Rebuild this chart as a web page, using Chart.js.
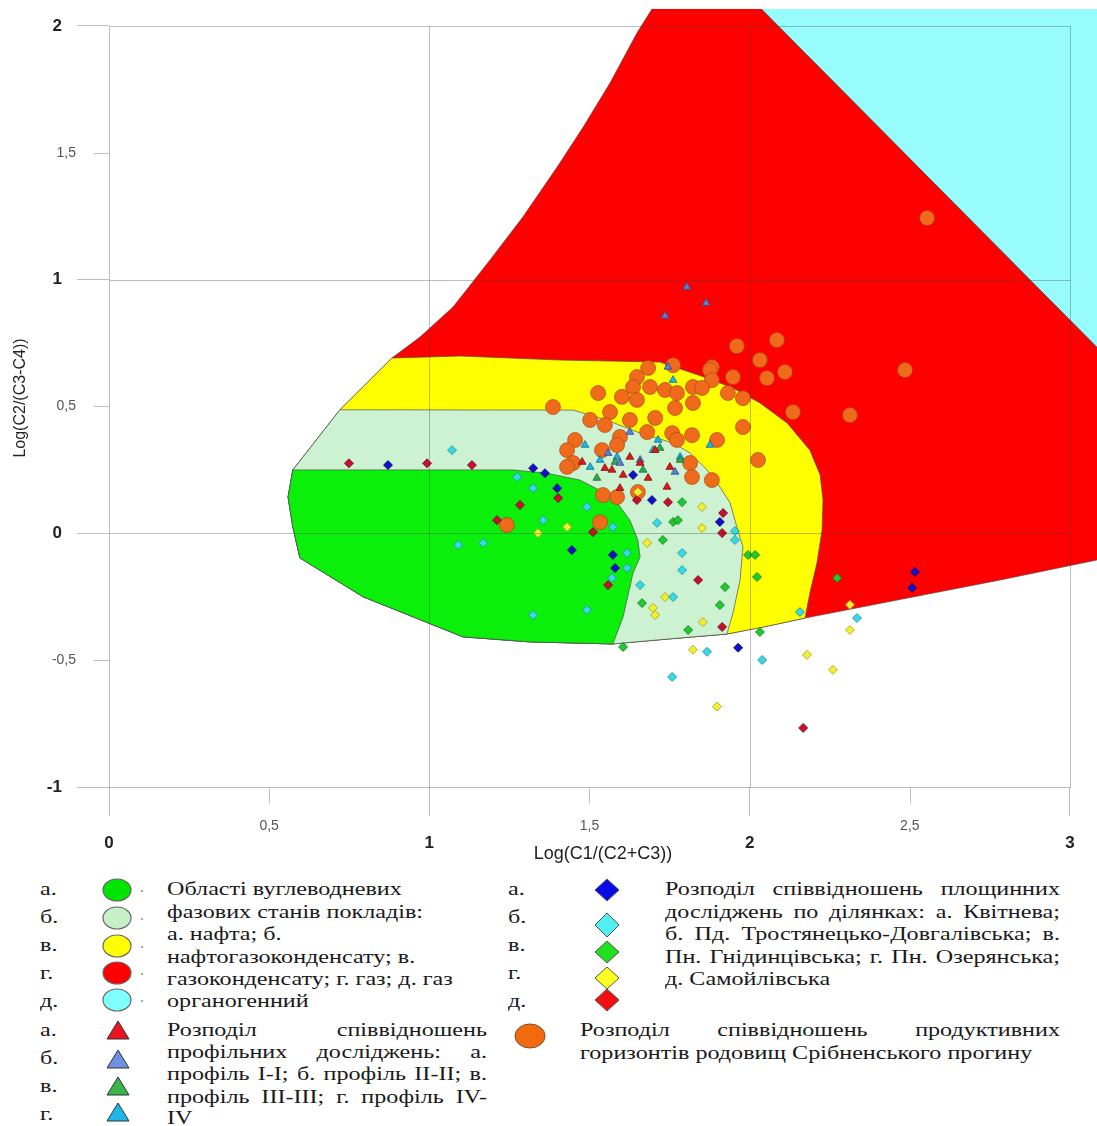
<!DOCTYPE html>
<html><head><meta charset="utf-8">
<script src="https://cdn.jsdelivr.net/npm/chart.js@4.4.1/dist/chart.umd.min.js"></script>
<style>
html,body{margin:0;padding:0;background:#fff;width:1097px;height:1126px;overflow:hidden;position:relative}
#wrap{position:absolute;left:0;top:0;width:1097px;height:870px}
.t{position:absolute;font-family:'Liberation Serif','Times New Roman',serif;font-size:19px;line-height:22px;color:#1a1a1a;transform-origin:0 0;white-space:nowrap}
.j{text-align:justify;text-align-last:justify}
svg.m{position:absolute;left:0;top:870px}
</style></head>
<body>
<div id="wrap"><canvas id="c" width="1097" height="870"></canvas></div>

<svg class="m" width="1097" height="256" viewBox="0 870 1097 256">
  <g stroke="#666" stroke-width="1.2">
    <ellipse cx="117" cy="890" rx="14" ry="11" fill="#00E400"/>
    <ellipse cx="117" cy="918" rx="14" ry="11" fill="#C8F0C8"/>
    <ellipse cx="117" cy="946" rx="14" ry="11" fill="#FFFF00"/>
    <ellipse cx="117" cy="973" rx="14" ry="11" fill="#FF0000"/>
    <ellipse cx="117" cy="1000" rx="14" ry="11" fill="#80FFFF"/>
  </g>
  <g fill="#888"><circle cx="142" cy="891" r="1"/><circle cx="142" cy="919" r="1"/><circle cx="142" cy="947" r="1"/><circle cx="142" cy="974" r="1"/><circle cx="142" cy="1001" r="1"/></g>
  <g stroke="#333" stroke-width="1">
    <polygon points="118,1021 107,1039 129,1039" fill="#E8141E"/>
    <polygon points="118,1050 107,1068 129,1068" fill="#6F8FE0"/>
    <polygon points="118,1077 107,1095 129,1095" fill="#3BB54A"/>
    <polygon points="118,1103 107,1121 129,1121" fill="#1EB8E8"/>
  </g>
  <g stroke="#555" stroke-width="1">
    <polygon points="607,879 619,890 607,901 595,890" fill="#0A0AE6"/>
    <polygon points="607,913 619,925 607,937 595,925" fill="#50F0F0"/>
    <polygon points="607,941 619,952 607,963 595,952" fill="#20E020"/>
    <polygon points="607,967 619,978 607,989 595,978" fill="#FFFF20"/>
    <polygon points="607,989 619,1000 607,1011 595,1000" fill="#F01010"/>
    <ellipse cx="530" cy="1036" rx="15" ry="12" fill="#F26A10" stroke="#8a4a20"/>
  </g>
</svg>

<div class="t" style="left:40px;top:878px">а.</div>
<div class="t" style="left:40px;top:906px">б.</div>
<div class="t" style="left:40px;top:934px">в.</div>
<div class="t" style="left:40px;top:962px">г.</div>
<div class="t" style="left:40px;top:990px">д.</div>
<div class="t" style="left:40px;top:1019px">а.</div>
<div class="t" style="left:40px;top:1047px">б.</div>
<div class="t" style="left:40px;top:1075px">в.</div>
<div class="t" style="left:40px;top:1103px">г.</div>

<div class="t" style="left:508px;top:878px">а.</div>
<div class="t" style="left:508px;top:906px">б.</div>
<div class="t" style="left:508px;top:934px">в.</div>
<div class="t" style="left:508px;top:962px">г.</div>
<div class="t" style="left:508px;top:990px">д.</div>

<div class="t" style="left:167px;top:878px">Області вуглеводневих</div>
<div class="t" style="left:167px;top:901px">фазових станів покладів:</div>
<div class="t" style="left:167px;top:923px">а. нафта; б.</div>
<div class="t" style="left:167px;top:946px">нафтогазоконденсату; в.</div>
<div class="t" style="left:167px;top:968px">газоконденсату; г. газ; д. газ</div>
<div class="t" style="left:167px;top:990px">органогенний</div>

<div class="t j" data-w="320" style="left:167px;top:1019px">Розподіл співвідношень</div>
<div class="t j" data-w="320" style="left:167px;top:1041px">профільних досліджень: а.</div>
<div class="t j" data-w="320" style="left:167px;top:1063px">профіль І-І; б. профіль ІІ-ІІ; в.</div>
<div class="t j" data-w="320" style="left:167px;top:1086px">профіль ІІІ-ІІІ; г. профіль IV-</div>
<div class="t" style="left:167px;top:1107px">IV</div>

<div class="t j" data-w="395" style="left:665px;top:878px">Розподіл співвідношень площинних</div>
<div class="t j" data-w="395" style="left:665px;top:901px">досліджень по ділянках: а. Квітнева;</div>
<div class="t j" data-w="395" style="left:665px;top:923px">б. Пд. Тростянецько-Довгалівська; в.</div>
<div class="t j" data-w="395" style="left:665px;top:946px">Пн. Гнідинцівська; г. Пн. Озерянська;</div>
<div class="t" style="left:665px;top:968px">д. Самойлівська</div>

<div class="t j" data-w="480" style="left:580px;top:1019px">Розподіл співвідношень продуктивних</div>
<div class="t" style="left:580px;top:1042px">горизонтів родовищ Срібненського прогину</div>

<script>
// legend text: horizontally stretched like the original; justified lines fill their width
(function () {
  const S = 1.27;
  document.querySelectorAll('.t').forEach(el => {
    const w = +el.dataset.w || 0;
    let s = S;
    if (w) {
      const nat = el.scrollWidth;
      if (nat * S > w) s = w / nat;
      el.style.width = (w / s) + 'px';
    }
    el.style.transform = 'scaleX(' + s + ')';
  });
})();
</script>

<script>
// ---------- axis ticks & titles ----------
const xTickValues = [0, 0.5, 1, 1.5, 2, 2.5, 3];
const yTickValues = [-1, -0.5, 0, 0.5, 1, 1.5, 2];
const xTitle = 'Log(C1/(C2+C3))';
const yTitle = 'Log(C2/(C3-C4))';

// ---------- phase-state regions (x, y) ----------
const regionGasOrganic = [[1.979,2.14],[3.125,2.14],[3.125,0.681],[1.979,2.14]];
const regionGas = [[1.733,2.14],[1.695,2.067],[1.648,1.972],[1.564,1.775],[1.480,1.601],[1.399,1.444],[1.292,1.247],[1.189,1.077],[1.074,0.892],[0.971,0.774],[0.883,0.691],[0.721,0.487],[0.574,0.250],[0.559,0.143],[0.574,0.025],[0.596,-0.097],[0.793,-0.250],[1.105,-0.408],[1.314,-0.428],[1.573,-0.436],[1.751,-0.416],[1.929,-0.397],[2.048,-0.368],[2.173,-0.334],[2.469,-0.261],[2.782,-0.184],[3.084,-0.105],[3.125,-0.097],[3.125,0.681],[1.979,2.14],[1.733,2.14]];
const regionCondensate = [[0.883,0.691],[1.096,0.699],[1.408,0.683],[1.720,0.675],[1.867,0.612],[1.948,0.573],[2.032,0.514],[2.117,0.435],[2.188,0.328],[2.220,0.230],[2.229,0.131],[2.226,0.013],[2.210,-0.117],[2.188,-0.235],[2.173,-0.334],[2.048,-0.368],[1.929,-0.397],[1.751,-0.416],[1.573,-0.436],[1.314,-0.428],[1.105,-0.408],[0.793,-0.250],[0.596,-0.097],[0.574,0.025],[0.559,0.143],[0.574,0.250],[0.721,0.487],[0.883,0.691]];
const regionOilGasCondensate = [[0.721,0.487],[1.408,0.486],[1.449,0.486],[1.555,0.446],[1.658,0.395],[1.761,0.356],[1.814,0.317],[1.867,0.250],[1.907,0.183],[1.939,0.120],[1.960,0.025],[1.979,-0.054],[1.970,-0.184],[1.948,-0.314],[1.929,-0.397],[1.751,-0.416],[1.573,-0.436],[1.314,-0.428],[1.105,-0.408],[0.793,-0.250],[0.596,-0.097],[0.574,0.025],[0.559,0.143],[0.574,0.250],[0.721,0.487]];
const regionOil = [[0.574,0.250],[1.261,0.250],[1.367,0.237],[1.470,0.210],[1.573,0.143],[1.626,0.052],[1.651,-0.026],[1.658,-0.093],[1.636,-0.156],[1.605,-0.329],[1.573,-0.436],[1.314,-0.428],[1.105,-0.408],[0.793,-0.250],[0.596,-0.097],[0.574,0.025],[0.559,0.143],[0.574,0.250]];

// ---------- productive horizons (orange circles) ----------
const fieldHorizons = [[2.554,1.243],[2.085,0.762],[1.960,0.738],[2.032,0.683],[1.882,0.655],[2.110,0.636],[2.054,0.612],[1.948,0.616],[2.485,0.644],[2.313,0.466],[2.135,0.478],[1.979,0.533],[2.026,0.289],[1.979,0.419],[1.761,0.663],[1.683,0.652],[1.648,0.616],[1.876,0.644],[1.882,0.604],[1.636,0.577],[1.689,0.577],[1.736,0.565],[1.773,0.553],[1.823,0.577],[1.851,0.573],[1.932,0.553],[1.527,0.553],[1.601,0.538],[1.648,0.526],[1.823,0.514],[1.767,0.494],[1.386,0.498],[1.502,0.447],[1.564,0.478],[1.548,0.427],[1.626,0.447],[1.705,0.455],[1.595,0.380],[1.680,0.399],[1.758,0.395],[1.820,0.387],[1.898,0.368],[1.455,0.368],[1.430,0.328],[1.539,0.328],[1.586,0.348],[1.773,0.368],[1.449,0.277],[1.430,0.262],[1.814,0.277],[1.820,0.222],[1.882,0.210],[1.542,0.151],[1.586,0.143],[1.651,0.163],[1.533,0.044],[1.242,0.033]];

// ---------- profile studies (triangles) ----------
const profileI = [[1.626,0.301],[1.570,0.250],[1.605,0.230],[1.548,0.257],[1.683,0.218],[1.742,0.183],[1.595,0.178],[1.658,0.277],[1.751,0.261],[1.477,0.281],[1.705,0.328]];
const profileII = [[1.804,0.971],[1.864,0.908],[1.736,0.857],[1.745,0.656],[1.626,0.399],[1.558,0.316],[1.658,0.289],[1.595,0.277],[1.767,0.242]];
const profileIII = [[1.720,0.336],[1.667,0.250],[1.580,0.281],[1.783,0.289],[1.523,0.218]];
const profileIV = [[1.761,0.604],[1.714,0.368],[1.502,0.261],[1.586,0.301],[1.698,0.328],[1.783,0.301],[1.876,0.348],[1.533,0.289],[1.486,0.348]];

// ---------- areal studies (diamonds) ----------
const areaKvitneva = [[0.871,0.269],[1.324,0.257],[1.361,0.237],[1.399,0.178],[1.445,-0.066],[1.573,-0.085],[1.580,-0.137],[1.636,0.230],[1.695,0.131],[1.907,0.045],[2.516,-0.152],[2.507,-0.215],[1.964,-0.451]];
const areaTrostianets = [[1.071,0.328],[1.274,0.222],[1.324,0.178],[1.355,0.052],[1.090,-0.046],[1.168,-0.038],[1.617,-0.078],[1.617,-0.137],[1.570,-0.176],[1.324,-0.322],[1.492,-0.302],[1.658,-0.204],[1.492,0.104],[1.573,0.025],[1.711,0.041],[1.789,-0.078],[1.789,-0.145],[1.761,-0.251],[1.954,0.009],[1.954,-0.026],[2.157,-0.310],[2.335,-0.334],[1.867,-0.467],[2.039,-0.499],[1.758,-0.566]];
const areaHnidyntsi = [[1.789,0.123],[1.761,0.045],[1.776,0.052],[1.729,-0.026],[1.664,-0.275],[1.808,-0.381],[1.605,-0.448],[1.923,-0.212],[1.907,-0.283],[1.995,-0.085],[2.017,-0.085],[2.023,-0.172],[2.273,-0.176],[2.032,-0.389]];
const areaOzeriany = [[1.339,0.001],[1.430,0.025],[1.680,-0.038],[1.851,0.104],[1.851,0.021],[1.698,-0.294],[1.705,-0.322],[1.736,-0.251],[1.854,-0.350],[2.313,-0.282],[2.313,-0.381],[1.823,-0.459],[2.179,-0.479],[2.260,-0.538],[1.898,-0.683],[1.651,0.163]];
const areaSamoilivka = [[0.749,0.276],[0.993,0.276],[1.133,0.269],[1.402,0.139],[1.283,0.112],[1.211,0.052],[1.511,0.005],[1.558,-0.204],[1.745,0.123],[1.648,0.131],[1.839,-0.184],[1.917,0.080],[1.914,0.001],[1.914,-0.369],[2.167,-0.767]];

// ---------- build ----------
const toXY = a => a.map(p => ({x: p[0], y: p[1]}));
const GRID = 'rgba(60,60,60,0.33)';
const isMajor = v => Number.isInteger(v);
const tickVal = ctx => (ctx && ctx.tick) ? ctx.tick.value : 0.5;

function region(pts, fill, order) {
  return {type: 'line', data: toXY(pts), showLine: true, fill: 'shape', backgroundColor: fill,
    borderColor: 'rgba(70,70,70,0.65)', borderWidth: 1, pointRadius: 0, pointHoverRadius: 0,
    tension: 0, order: order};
}
function markers(pts, style, r, fill, stroke, order) {
  return {type: 'scatter', data: toXY(pts), pointStyle: style, pointRadius: r, pointHoverRadius: r,
    backgroundColor: fill, borderColor: stroke, borderWidth: 0.8, order: order};
}

const boxGrid = {
  id: 'boxGrid',
  afterDatasetsDraw(chart) {
    const {ctx, scales: {x, y}} = chart;
    const px = v => Math.round(x.getPixelForValue(v)) + 0.5;
    const py = v => Math.round(y.getPixelForValue(v)) + 0.5;
    const x0 = px(0), x3 = px(3), yb = py(-1), yt = py(2);
    ctx.save();
    ctx.strokeStyle = GRID; ctx.lineWidth = 1;
    ctx.beginPath();
    xTickValues.forEach(v => {
      if (isMajor(v)) { ctx.moveTo(px(v), yt); ctx.lineTo(px(v), yb); }
      else { ctx.moveTo(px(v), yb); ctx.lineTo(px(v), yb + 16); }
    });
    yTickValues.forEach(v => {
      if (isMajor(v)) { ctx.moveTo(x0, py(v)); ctx.lineTo(x3, py(v)); }
      else { ctx.moveTo(x0 - 16, py(v)); ctx.lineTo(x0, py(v)); }
    });
    ctx.stroke();
    ctx.restore();
  }
};

const FONT = "'Liberation Sans', Arial, sans-serif";
const tickFont = ctx => isMajor(tickVal(ctx))
  ? {family: FONT, size: 17, weight: 'bold', lineHeight: 1.0}
  : {family: FONT, size: 14, weight: 'normal', lineHeight: 1.2};
const tickColor = ctx => isMajor(tickVal(ctx)) ? '#222' : '#555';
const markColor = ctx => isMajor(tickVal(ctx)) ? GRID : 'rgba(0,0,0,0)';
const noPad = s => { s.paddingLeft = 0; s.paddingRight = 0; s.paddingTop = 0; s.paddingBottom = 0; };

new Chart(document.getElementById('c'), {
  type: 'scatter',
  data: {
    datasets: [
      markers(profileI, 'triangle', 4.5, '#E01818', '#7a1010', 1),
      markers(profileII, 'triangle', 4.5, '#5A80D8', '#304c8a', 1),
      markers(profileIII, 'triangle', 4.5, '#2EAA4A', '#1c6a2e', 1),
      markers(profileIV, 'triangle', 4.5, '#20B4E6', '#14708f', 1),
      markers(areaKvitneva, 'rectRot', 4.5, '#1010C8', '#08086a', 2),
      markers(areaTrostianets, 'rectRot', 4.5, '#38D8E4', '#1f8f96', 2),
      markers(areaHnidyntsi, 'rectRot', 4.5, '#22C832', '#147a1e', 2),
      markers(areaOzeriany, 'rectRot', 4.5, '#F0F030', '#a0a020', 2),
      markers(areaSamoilivka, 'rectRot', 4.5, '#C8102E', '#6a0818', 2),
      markers(fieldHorizons, 'circle', 7.5, '#F06A1C', 'rgba(160,70,20,0.8)', 3),
      region(regionOil, '#0AF00A', 6),
      region(regionOilGasCondensate, '#CCF2D2', 7),
      region(regionCondensate, '#FFFF00', 8),
      region(regionGas, '#FF0000', 9),
      region(regionGasOrganic, '#98FCFC', 10)
    ]
  },
  options: {
    responsive: false,
    devicePixelRatio: 1,
    animation: false,
    events: [],
    layout: {autoPadding: false, padding: {top: 9, right: 0, left: 0, bottom: 0}},
    plugins: {legend: {display: false}, tooltip: {enabled: false}},
    scales: {
      x: {
        type: 'linear', position: 'bottom', min: 0, max: 3.0843,
        afterBuildTicks: s => { s.ticks = xTickValues.map(v => ({value: v})); },
        afterFit: s => { s.height = 83; noPad(s); },
        border: {display: false},
        grid: {drawOnChartArea: false, drawTicks: true, tickLength: 29, tickColor: markColor},
        ticks: {autoSkip: false, maxRotation: 0, padding: 2, font: tickFont, color: tickColor,
                callback: v => isMajor(v) ? ['', String(v)] : String(v).replace('.', ',')},
        title: {display: true, text: xTitle, color: '#222', font: {family: FONT, size: 18}, padding: {top: 0, bottom: 5}}
      },
      y: {
        type: 'linear', position: 'left', min: -1, max: 2.067,
        afterBuildTicks: s => { s.ticks = yTickValues.map(v => ({value: v})); },
        afterFit: s => { s.width = 109; noPad(s); },
        border: {display: false},
        grid: {drawOnChartArea: false, drawTicks: true, tickLength: 32, tickColor: markColor},
        ticks: {autoSkip: false, padding: 1, font: tickFont, color: tickColor,
                callback: v => isMajor(v) ? String(v) + '   ' : String(v).replace('.', ',')},
        title: {display: true, text: yTitle, color: '#222', font: {family: FONT, size: 16}, padding: {top: 11, bottom: 0}}
      }
    }
  },
  plugins: [boxGrid]
});
</script>
</body></html>
